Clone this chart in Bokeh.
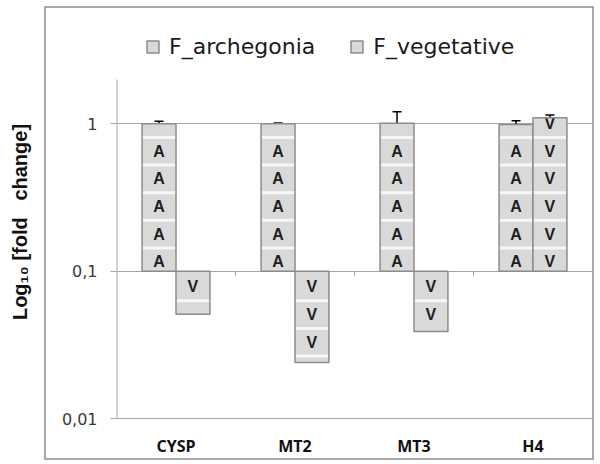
import math
from bokeh.plotting import figure
from bokeh.models import (ColumnDataSource, Range1d, FixedTicker, CustomJSTickFormatter,
                          Whisker, TeeHead, Legend, LegendItem)
from bokeh.core.properties import value
from bokeh.embed import file_html
from bokeh.resources import INLINE

# ---- data ----
categories = ["CYSP", "MT2", "MT3", "H4"]
archegonia = [1.00, 1.00, 1.01, 0.99]
archegonia_err = [0.04, 0.012, 0.20, 0.06]
vegetative = [0.051, 0.024, 0.039, 1.10]
vegetative_err = [0.008, 0.0086, 0.018, 0.05]
series_names = ["F_archegonia", "F_vegetative"]
series_letters = ["A", "V"]
y_ticks = [0.01, 0.1, 1]
y_min, y_max = 0.01, 2
baseline = 0.1

# ---- style ----
W, H = 600, 464
ML, MR, MT, MB = 116, 8, 25, 46
AXIS_TOP_PX = 79            # page y where the value axis ends
BAR_W = 0.285
STEP = 0.1875               # pattern cell height (decades)
UP_PHASE = 0.158
DOWN_PHASE = 0.201
BAR_FILL = "#d9d9d9"
BAR_LINE = "#8c8c8c"
GRID = "#a6a6a6"

frame_h = H - MT - MB
px_per_dec = (H - MB - AXIS_TOP_PX) / (math.log10(y_max) - math.log10(y_min))
y_end = 10 ** (math.log10(y_min) + frame_h / px_per_dec)

border_svg = ("data:image/svg+xml;utf8,<svg xmlns='http://www.w3.org/2000/svg' width='600' height='464'>"
              "<rect x='45' y='7' width='548' height='452' fill='none' stroke='%238c8c8c' "
              "stroke-width='1.5'/></svg>")

p = figure(width=W, height=H, y_axis_type="log", output_backend="svg",
           toolbar_location=None, x_range=Range1d(-0.5, len(categories) - 0.5),
           y_range=Range1d(y_min, y_end),
           min_border_left=ML, min_border_right=MR, min_border_top=MT, min_border_bottom=MB)
p.outline_line_color = None
p.background_fill_color = None
p.border_fill_color = None
p.styles = {"background-color": "white", "background-image": f'url("{border_svg}")',
            "background-repeat": "no-repeat"}

# axes
p.yaxis.ticker = FixedTicker(ticks=y_ticks, minor_ticks=[])
p.yaxis.formatter = CustomJSTickFormatter(code="return tick.toString().replace('.', ',');")
p.yaxis.axis_line_color = None
p.yaxis.major_tick_line_color = GRID
p.yaxis.major_tick_out = 6
p.yaxis.major_tick_in = 0
p.yaxis.minor_tick_line_color = None
p.yaxis.major_label_text_font = "DejaVu Sans"
p.yaxis.major_label_text_font_size = "16px"
p.yaxis.major_label_text_color = "#3a3a3a"
p.yaxis.major_label_standoff = 13
p.yaxis.axis_label = "Log\u2081\u2080 [fold\u00a0\u00a0\u00a0change]"
p.yaxis.axis_label_text_font = "Liberation Sans"
p.yaxis.axis_label_text_font_style = "bold"
p.yaxis.axis_label_text_font_size = "20px"
p.yaxis.axis_label_text_color = "#111111"
p.yaxis.axis_label_standoff = 28

p.xaxis.ticker = FixedTicker(ticks=list(range(len(categories))))
p.xaxis.major_label_overrides = {i: c for i, c in enumerate(categories)}
p.xaxis.axis_line_color = GRID
p.xaxis.major_tick_line_color = None
p.xaxis.minor_tick_line_color = None
p.xaxis.major_label_text_font = "Open Sans"
p.xaxis.major_label_text_font_style = "bold"
p.xaxis.major_label_text_font_size = "16px"
p.xaxis.major_label_text_color = "#111111"
p.xaxis.major_label_standoff = 10

p.xgrid.grid_line_color = None
p.ygrid.ticker = FixedTicker(ticks=y_ticks)
p.ygrid.grid_line_color = GRID
p.ygrid.grid_line_width = 1

# value axis line (only up to y_max)
p.segment(x0=[-0.5], x1=[-0.5], y0=[y_min], y1=[y_max], line_color=GRID, line_width=2)

# category boundary ticks at the baseline
bounds = [i + 0.5 for i in range(len(categories) - 1)]
p.segment(x0=bounds, x1=bounds, y0=[baseline] * len(bounds),
          y1=[baseline * 10 ** (-5 / px_per_dec)] * len(bounds), line_color=GRID, line_width=1)

series = [(archegonia, archegonia_err, -BAR_W / 2, series_letters[0]),
          (vegetative, vegetative_err, BAR_W / 2, series_letters[1])]

legend_items = []
lb = math.log10(baseline)
for (vals, errs, off, letter), name in zip(series, series_names):
    xs = [i + off for i in range(len(categories))]
    src = ColumnDataSource(dict(x=xs, top=vals, bottom=[baseline] * len(vals),
                                lower=vals, upper=[v + e for v, e in zip(vals, errs)]))
    r_fill = p.vbar(x="x", top="top", bottom="bottom", width=BAR_W, source=src,
                    fill_color=BAR_FILL, line_color=None)
    sx0, sx1, sey, tx, ty = [], [], [], [], []
    for x, v in zip(xs, vals):
        t = math.log10(v)
        if t > lb:
            k = 0
            while lb + UP_PHASE + k * STEP < t - 0.03:
                sey.append(10 ** (lb + UP_PHASE + k * STEP)); sx0.append(x - BAR_W / 2); sx1.append(x + BAR_W / 2)
                k += 1
            k = 0
            while lb + UP_PHASE - STEP / 2 + k * STEP < t - 0.02:
                ty.append(10 ** (lb + UP_PHASE - STEP / 2 + k * STEP)); tx.append(x)
                k += 1
        else:
            k = 0
            while lb - DOWN_PHASE - k * STEP > t + 0.03:
                sey.append(10 ** (lb - DOWN_PHASE - k * STEP)); sx0.append(x - BAR_W / 2); sx1.append(x + BAR_W / 2)
                k += 1
            k = 0
            while lb - (DOWN_PHASE - STEP / 2) - k * STEP > t + 0.02:
                ty.append(10 ** (lb - (DOWN_PHASE - STEP / 2) - k * STEP)); tx.append(x)
                k += 1
    p.segment(x0=sx0, x1=sx1, y0=sey, y1=sey, line_color="#f7f7f7", line_width=3)
    p.text(x=tx, y=ty, text=[letter] * len(tx), text_align="center", text_baseline="middle",
           text_font=value("Liberation Sans"), text_font_style="bold",
           text_font_size="16px", text_color="#1e1e1e")
    r_line = p.vbar(x="x", top="top", bottom="bottom", width=BAR_W, source=src,
                    fill_color=None, line_color=BAR_LINE, line_width=1.5)
    p.add_layout(Whisker(base="x", lower="lower", upper="upper", source=src, dimension="height",
                         line_color="black", line_width=1.5, lower_head=None,
                         upper_head=TeeHead(size=9, line_color="black", line_width=1.5)))
    legend_items.append(LegendItem(label=name, renderers=[r_fill, r_line]))

legend = Legend(items=legend_items, orientation="horizontal", location=(29, 359),
                padding=0, margin=0, spacing=34, label_standoff=9,
                glyph_width=15, glyph_height=15, border_line_color=None,
                background_fill_alpha=0, label_text_font="DejaVu Sans",
                label_text_font_size="22px", label_text_color="#1a1a1a")
p.add_layout(legend)

open("out.html", "w").write(file_html(p, INLINE))
